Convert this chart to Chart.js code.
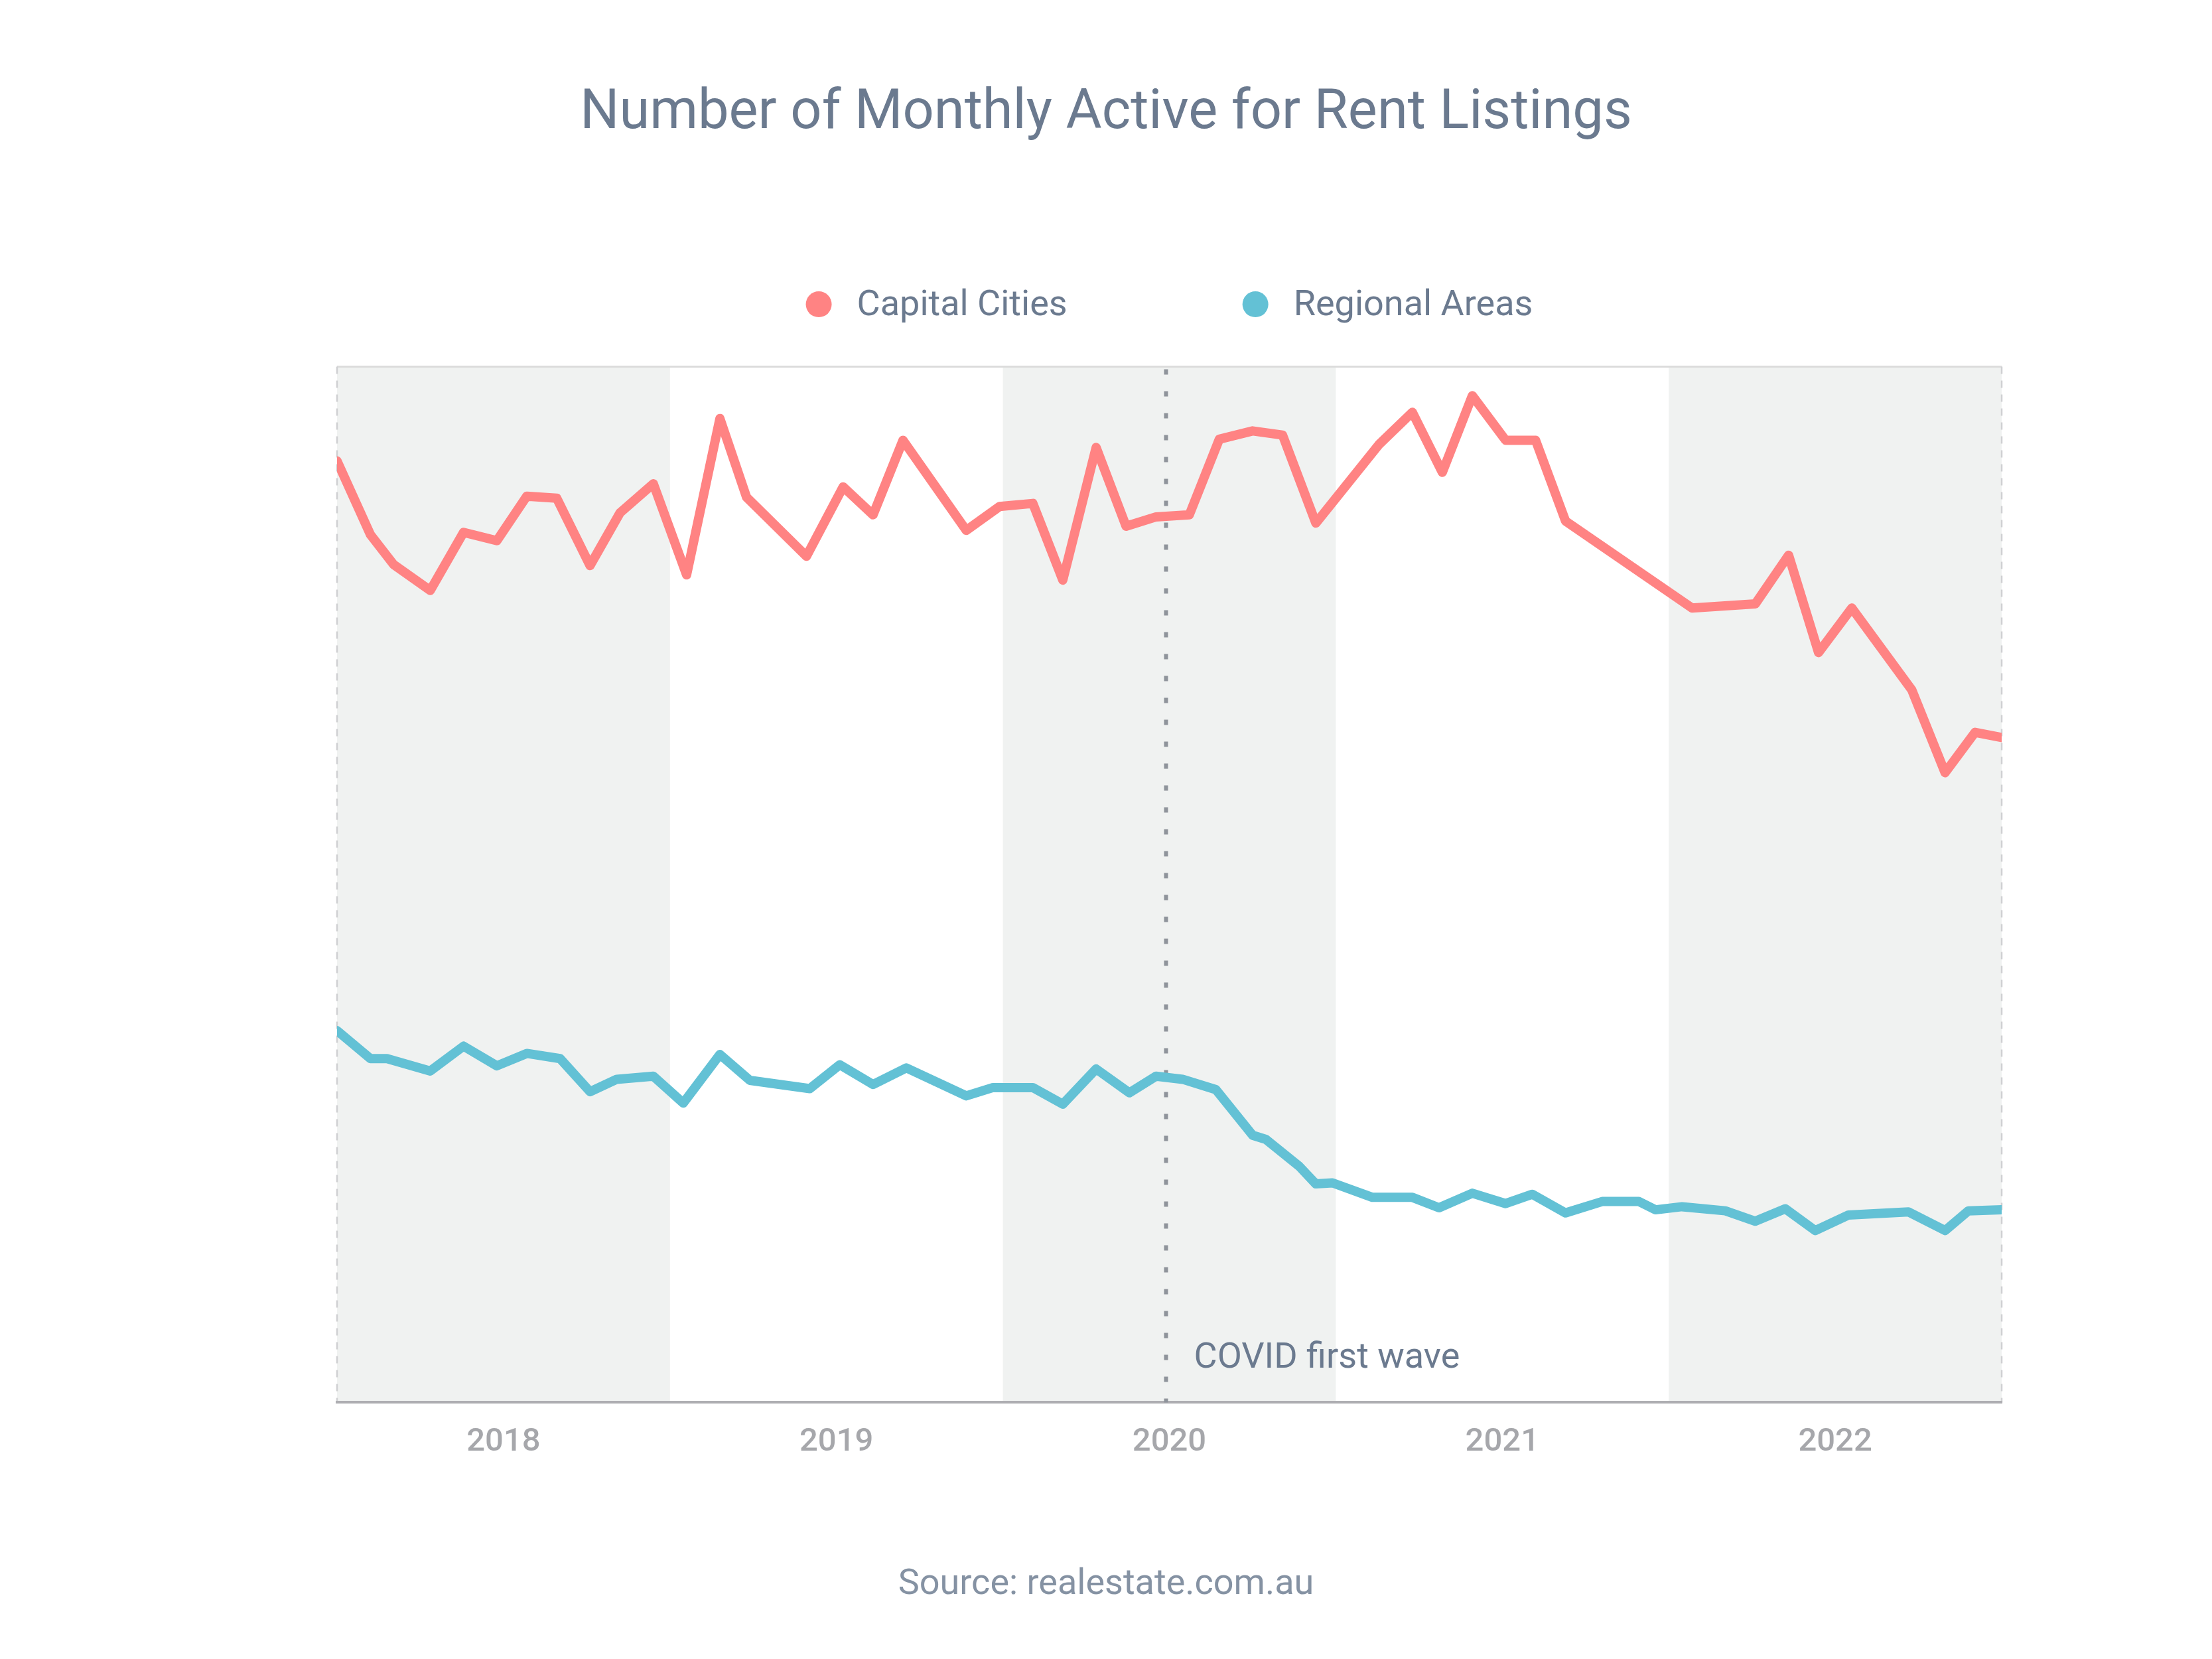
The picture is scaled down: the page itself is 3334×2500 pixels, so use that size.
<!DOCTYPE html>
<html>
<head>
<meta charset="utf-8">
<script src="https://cdn.jsdelivr.net/npm/chart.js@4.4.1/dist/chart.umd.min.js"></script>
<style>
  html, body { margin: 0; padding: 0; background: #ffffff; }
  #wrap { width: 3334px; height: 2500px; }
</style>
</head>
<body>
<div id="wrap"><canvas id="chart"></canvas></div>
<script>
const capitalX = [2017.50, 2017.60, 2017.67, 2017.78, 2017.88, 2017.98, 2018.07, 2018.16, 2018.26, 2018.35,
  2018.45, 2018.55, 2018.65, 2018.73, 2018.91, 2019.02, 2019.11, 2019.20, 2019.39, 2019.49,
  2019.59, 2019.68, 2019.78, 2019.87, 2019.96, 2020.06, 2020.15, 2020.25, 2020.34, 2020.44,
  2020.63, 2020.73, 2020.82, 2020.91, 2021.01, 2021.10, 2021.19, 2021.57, 2021.76, 2021.86,
  2021.95, 2022.05, 2022.23, 2022.33, 2022.42, 2022.50];
const capitalY = [90.9, 83.8, 80.9, 78.4, 84.0, 83.2, 87.5, 87.3, 80.8, 85.9,
  88.7, 79.9, 95.0, 87.4, 81.7, 88.4, 85.7, 92.9, 84.2, 86.5,
  86.8, 79.4, 92.2, 84.6, 85.5, 85.7, 93.0, 93.8, 93.4, 84.9,
  92.5, 95.6, 89.8, 97.2, 92.9, 92.9, 85.1, 76.7, 77.1, 81.8,
  72.4, 76.7, 68.8, 60.8, 64.7, 64.2];

const regionalX = [2017.50, 2017.60, 2017.65, 2017.78, 2017.88, 2017.98, 2018.07, 2018.17, 2018.26, 2018.34,
  2018.45, 2018.54, 2018.65, 2018.74, 2018.92, 2019.01, 2019.11, 2019.21, 2019.39, 2019.47,
  2019.59, 2019.68, 2019.78, 2019.88, 2019.96, 2020.04, 2020.14, 2020.25, 2020.29, 2020.39,
  2020.44, 2020.49, 2020.61, 2020.73, 2020.81, 2020.91, 2021.01, 2021.09, 2021.19, 2021.30,
  2021.41, 2021.46, 2021.54, 2021.67, 2021.76, 2021.85, 2021.94, 2022.04, 2022.22, 2022.33,
  2022.40, 2022.50];
const regionalY = [35.9, 33.2, 33.2, 32.0, 34.4, 32.5, 33.7, 33.2, 30.0, 31.2,
  31.5, 28.9, 33.6, 31.1, 30.3, 32.6, 30.7, 32.3, 29.6, 30.4,
  30.4, 28.8, 32.2, 29.9, 31.5, 31.2, 30.2, 25.8, 25.4, 22.8,
  21.1, 21.2, 19.8, 19.8, 18.8, 20.2, 19.2, 20.1, 18.3, 19.4,
  19.4, 18.6, 18.9, 18.5, 17.5, 18.7, 16.6, 18.1, 18.4, 16.6,
  18.5, 18.6];

const yearTicks = [2018, 2019, 2020, 2021, 2022];
const yearLabels = ['2018', '2019', '2020', '2021', '2022'];
const shadedBands = [[2017.5, 2018.5], [2019.5, 2020.5], [2021.5, 2022.5]];
const xRange = [2017.5, 2022.5];
const covidX = 2019.99;
const covidLabel = 'COVID first wave';

const slate = '#6b7a8f';

const toPoints = (xs, ys) => xs.map((x, i) => ({ x, y: ys[i] }));

const decorations = {
  id: 'decorations',
  beforeDraw(chart) {
    const { ctx, chartArea: a, scales: { x } } = chart;
    ctx.save();
    ctx.fillStyle = '#f0f2f1';
    shadedBands.forEach(([s, e]) => {
      const x0 = x.getPixelForValue(s);
      const x1 = x.getPixelForValue(e);
      ctx.fillRect(x0, a.top, x1 - x0, a.bottom - a.top);
    });
    ctx.strokeStyle = '#dcdcdc';
    ctx.lineWidth = 3;
    ctx.beginPath();
    ctx.moveTo(a.left, a.top);
    ctx.lineTo(a.right, a.top);
    ctx.stroke();
    ctx.strokeStyle = '#cfd0d2';
    ctx.lineWidth = 2.5;
    ctx.setLineDash([11, 10]);
    [a.left, a.right].forEach(px => {
      ctx.beginPath();
      ctx.moveTo(px, a.top);
      ctx.lineTo(px, a.bottom);
      ctx.stroke();
    });
    ctx.restore();
  },
  beforeDatasetsDraw(chart) {
    const { ctx, chartArea: a, scales: { x } } = chart;
    const px = x.getPixelForValue(covidX);
    ctx.save();
    ctx.strokeStyle = '#8f949b';
    ctx.lineWidth = 6;
    ctx.setLineDash([8, 25]);
    ctx.beginPath();
    ctx.moveTo(px, a.top + 4);
    ctx.lineTo(px, a.bottom);
    ctx.stroke();
    ctx.setLineDash([]);
    ctx.fillStyle = slate;
    ctx.font = '54px Roboto';
    ctx.textBaseline = 'middle';
    ctx.textAlign = 'left';
    ctx.fillText(covidLabel, px + 42, a.bottom - 66);
    ctx.restore();
  },
  afterDraw(chart) {
    const { ctx, chartArea: a } = chart;
    const r = 19.5, gapText = 38, gapItem = 264;
    ctx.save();
    ctx.font = '54px Roboto';
    const items = chart.data.datasets.map(d => ({
      text: d.label, color: d.borderColor, w: ctx.measureText(d.label).width
    }));
    const total = items.reduce((s, it) => s + 2 * r + gapText + it.w, 0) + gapItem * (items.length - 1);
    let cx = (a.left + a.right) / 2 - total / 2;
    const cy = a.top - 94;
    ctx.textBaseline = 'middle';
    ctx.textAlign = 'left';
    items.forEach(it => {
      ctx.fillStyle = it.color;
      ctx.beginPath();
      ctx.arc(cx + r, cy, r, 0, Math.PI * 2);
      ctx.fill();
      ctx.fillStyle = slate;
      ctx.fillText(it.text, cx + 2 * r + gapText, cy + 3);
      cx += 2 * r + gapText + it.w + gapItem;
    });
    ctx.restore();
  }
};

Chart.defaults.font.family = 'Roboto';

new Chart(document.getElementById('chart'), {
  type: 'line',
  data: {
    datasets: [
      {
        label: 'Capital Cities',
        data: toPoints(capitalX, capitalY),
        borderColor: '#ff8383',
        borderWidth: 14,
        borderJoinStyle: 'round',
        borderCapStyle: 'round',
        pointRadius: 0,
        tension: 0
      },
      {
        label: 'Regional Areas',
        data: toPoints(regionalX, regionalY),
        borderColor: '#63c1d5',
        borderWidth: 14,
        borderJoinStyle: 'round',
        borderCapStyle: 'round',
        pointRadius: 0,
        tension: 0
      }
    ]
  },
  options: {
    responsive: true,
    maintainAspectRatio: false,
    devicePixelRatio: 1,
    animation: false,
    layout: { padding: { left: 317, right: 317, top: 0, bottom: 0 } },
    plugins: {
      legend: { display: false },
      tooltip: { enabled: false },
      title: {
        display: true,
        text: 'Number of Monthly Active for Rent Listings',
        color: slate,
        font: { size: 83, weight: 'normal' },
        padding: { top: 122, bottom: 331 }
      },
      subtitle: {
        display: true,
        position: 'bottom',
        text: 'Source: realestate.com.au',
        color: '#8592a3',
        font: { size: 54, weight: 'normal' },
        padding: { top: 122, bottom: 79 }
      }
    },
    scales: {
      x: {
        type: 'linear',
        min: xRange[0],
        max: xRange[1],
        afterBuildTicks: s => { s.ticks = yearTicks.map(v => ({ value: v })); },
        ticks: {
          callback: (v) => yearLabels[yearTicks.indexOf(v)],
          color: '#a6a7ab',
          font: { size: 49, weight: '500' },
          padding: 31,
          maxRotation: 0
        },
        grid: { display: false, drawTicks: false },
        border: { display: true, color: '#aeaeb2', width: 4 }
      },
      y: {
        display: true,
        min: 0,
        max: 100,
        ticks: { display: false },
        grid: { display: false, drawTicks: false },
        border: { display: false },
        afterFit: s => { s.width = 191; }
      }
    }
  },
  plugins: [decorations]
});
</script>
</body>
</html>
